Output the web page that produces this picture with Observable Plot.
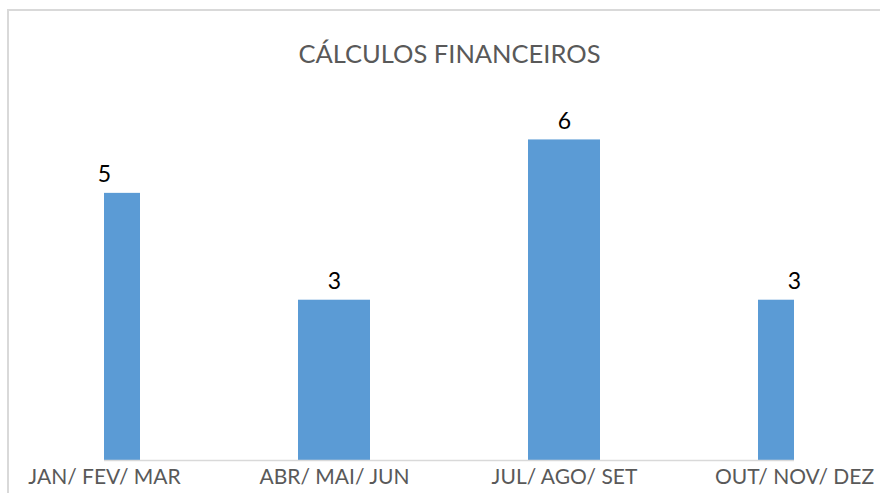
<!DOCTYPE html>
<html>
<head>
<meta charset="utf-8">
<script src="https://cdn.jsdelivr.net/npm/d3@7"></script>
<script src="https://cdn.jsdelivr.net/npm/@observablehq/plot@0.6"></script>
<style>
  html, body { margin: 0; padding: 0; background: #fff; }
  #wrap { position: relative; width: 880px; height: 493px; overflow: hidden; }
  #border { position: absolute; left: 7px; top: 9px; width: 900px; height: 500px;
            border-top: 2px solid #d9d9d9; border-left: 2px solid #d9d9d9; box-sizing: border-box; }
  #chart { position: absolute; left: 0; top: 0; }
</style>
</head>
<body>
<div id="wrap"><div id="border"></div><div id="chart"></div></div>
<script>
const title = "CÁLCULOS FINANCEIROS";
const categories = ["JAN/ FEV/ MAR", "ABR/ MAI/ JUN", "JUL/ AGO/ SET", "OUT/ NOV/ DEZ"];
const values = [5, 3, 6, 3];

const data = categories.map((c, i) => ({category: c, value: values[i]}));

const font = "Lato, 'Open Sans', sans-serif";

const chart = Plot.plot({
  width: 880,
  height: 493,
  marginLeft: 104,
  marginRight: 86,
  marginTop: 86,
  marginBottom: 33,
  style: {fontFamily: font, background: "transparent", overflow: "visible"},
  x: {
    type: "band",
    domain: categories,
    range: [104 - 115, 794 + 115],
    paddingInner: 1 - 72 / 230,
    paddingOuter: (1 - 72 / 230) / 2,
    align: 0.5
  },
  y: {domain: [0, 7], axis: null},
  marks: [
    Plot.barY(data, {x: "category", y: "value", fill: "#5B9BD5", clip: "frame"}),
    Plot.ruleY([0], {stroke: "#d9d9d9", strokeWidth: 1.5}),
    Plot.text(data, {x: "category", y: "value", text: d => String(d.value),
      lineAnchor: "bottom", dy: -11, fontSize: 23, fill: "#000"}),
    Plot.axisX({tickSize: 0, tickPadding: 9, fontSize: 21, color: "#595959", label: null}),
    Plot.text([title], {frameAnchor: "top", lineAnchor: "bottom", dy: -24,
      fontSize: 25.5, fill: "#595959"})
  ]
});

document.getElementById("chart").appendChild(chart);
</script>
</body>
</html>
